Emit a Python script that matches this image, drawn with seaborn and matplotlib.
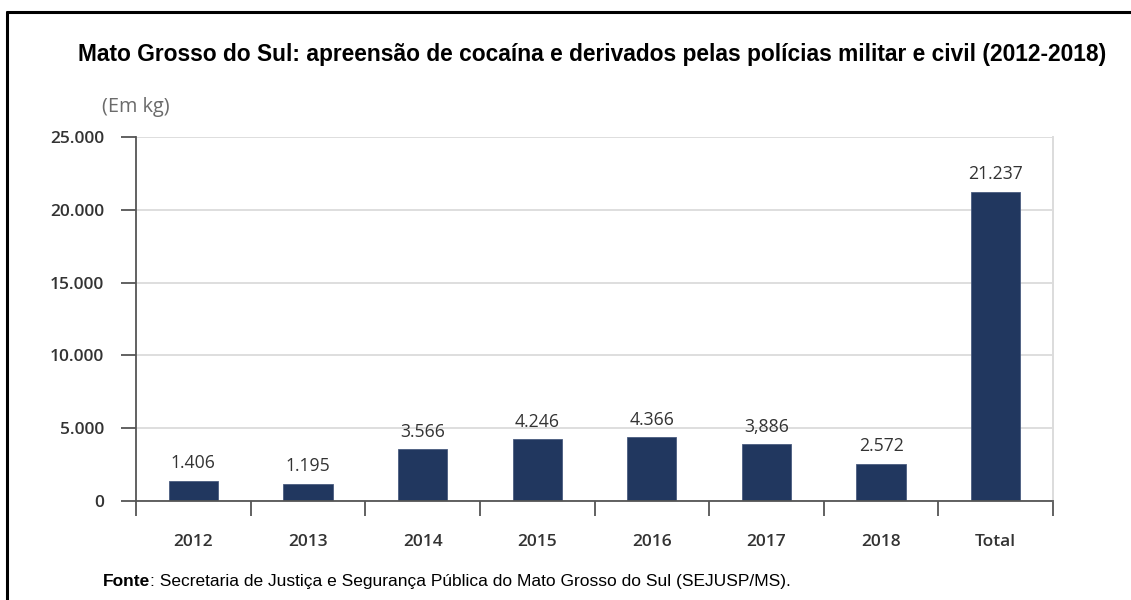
import matplotlib
matplotlib.use("Agg")
import matplotlib.pyplot as plt
import seaborn as sns
import pandas as pd
from matplotlib.ticker import FuncFormatter, FixedLocator
from matplotlib.lines import Line2D

categories = ["2012", "2013", "2014", "2015", "2016", "2017", "2018", "Total"]
values = [1406, 1195, 3566, 4246, 4366, 3886, 2572, 21237]
value_labels = ["1.406", "1.195", "3.566", "4.246", "4.366", "3,886", "2.572", "21.237"]
y_ticks = [0, 5000, 10000, 15000, 20000, 25000]

title = "Mato Grosso do Sul: apreensão de cocaína e derivados pelas polícias militar e civil (2012-2018)"
unit = "(Em kg)"
source_bold = "Fonte"
source_rest = ": Secretaria de Justiça e Segurança Pública do Mato Grosso do Sul (SEJUSP/MS)."

sns.set_style("white")
plt.rcParams["font.family"] = ["Open Sans", "DejaVu Sans"]

W, H = 1131, 600
fig = plt.figure(figsize=(W / 100, H / 100), dpi=100)
fig.patch.set_facecolor("white")

left, right, top, bottom = 136, 1053, 137, 501
ax = fig.add_axes([left / W, 1 - bottom / H, (right - left) / W, (bottom - top) / H])

df = pd.DataFrame({"cat": categories, "val": values})
sns.barplot(data=df, x="cat", y="val", color="#21375f", width=0.43,
            saturation=1, ax=ax, edgecolor="#4a5c80", linewidth=0.6)

ax.set_ylim(0, 25000)
ax.set_xlim(-0.5, len(categories) - 0.5)
ax.set_xlabel("")
ax.set_ylabel("")

ax.yaxis.set_major_locator(FixedLocator(y_ticks))
ax.yaxis.set_major_formatter(FuncFormatter(lambda v, p: f"{int(v):,}".replace(",", ".")))
ax.grid(axis="y", color="#dedede", linewidth=1.4)
ax.grid(axis="x", visible=False)
ax.set_axisbelow(True)

ax.xaxis.set_minor_locator(FixedLocator([i - 0.5 for i in range(len(categories) + 1)]))
ax.tick_params(axis="both", which="both", bottom=True, left=True)
ax.tick_params(axis="x", which="major", length=0, pad=24, labelsize=12.5, labelcolor="#333333")
ax.tick_params(axis="x", which="minor", length=11, width=1.3, color="#555555", direction="out")
ax.tick_params(axis="y", which="major", length=11, width=1.3, color="#555555", direction="out",
               pad=12, labelsize=12.5, labelcolor="#333333")
for lbl in ax.get_xticklabels() + ax.get_yticklabels():
    lbl.set_fontweight("semibold")

for s in ["left", "bottom"]:
    ax.spines[s].set_color("#555555")
    ax.spines[s].set_linewidth(1.3)
ax.spines["top"].set_visible(False)
ax.spines["right"].set_color("#dcdcdc")
ax.spines["right"].set_linewidth(1.4)

for i, (v, t) in enumerate(zip(values, value_labels)):
    ax.annotate(t, (i, v), xytext=(0, 6), textcoords="offset points",
                ha="center", va="bottom", fontsize=12.7, color="#333333")

fig.text(592 / W, 1 - 55 / H, title, ha="center", va="center",
         fontsize=16.4, fontweight="bold", family="Liberation Sans", color="black")
fig.text(102 / W, 1 - 107 / H, unit, ha="left", va="center",
         fontsize=14.3, color="#6b6b6b")

t1 = fig.text(103 / W, 1 - 586 / H, source_bold, ha="left", va="baseline",
              fontsize=12.5, fontweight="bold", family="Liberation Sans", color="black")
fig.canvas.draw()
bb = t1.get_window_extent()
fig.text(bb.x1 / W, 1 - 586 / H, source_rest, ha="left", va="baseline",
         fontsize=12.5, family="Liberation Sans", color="black")

# frame
fig.add_artist(Line2D([7 / W, 7 / W], [0, 1 - 12 / H], color="black", lw=2.2, transform=fig.transFigure))
fig.add_artist(Line2D([7 / W, 1], [1 - 12 / H, 1 - 12 / H], color="black", lw=2.2, transform=fig.transFigure))

fig.savefig("out.png", dpi=100)
